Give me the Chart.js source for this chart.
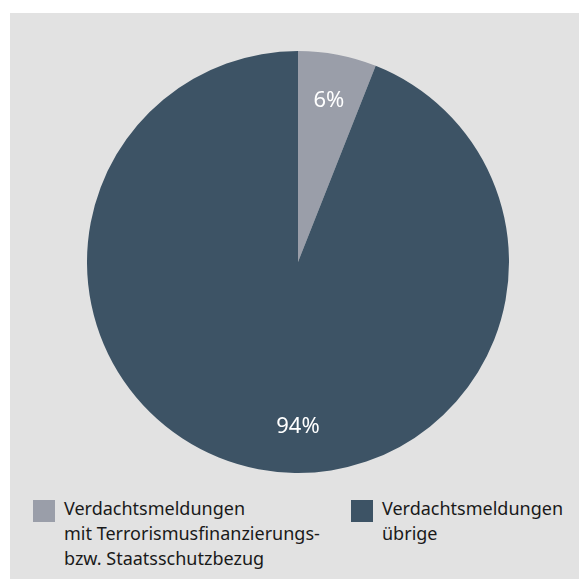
<!DOCTYPE html>
<html>
<head>
<meta charset="utf-8">
<script src="https://cdn.jsdelivr.net/npm/chart.js@4"></script>
<style>
  html, body { margin: 0; padding: 0; background: #fff; }
  body { width: 579px; height: 579px; position: relative; overflow: hidden; font-family: "Noto Sans", sans-serif; }
  #panel { position: absolute; left: 10px; top: 13px; right: 0; bottom: 0; background: #e2e2e2; }
  #wrap { position: absolute; left: 87px; top: 51px; width: 422px; height: 422px; }
  .leg { position: absolute; top: 496px; font-size: 18px; line-height: 25px; color: #1a1a1a; }
  .leg .box { position: absolute; left: -31px; top: 4px; width: 22px; height: 22px; }
</style>
</head>
<body>
<div id="panel"></div>
<div id="wrap"><canvas id="pie"></canvas></div>
<div id="legend"></div>
<script>
// Daten
var labels = [
    ["Verdachtsmeldungen", "mit Terrorismusfinanzierungs-", "bzw. Staatsschutzbezug"],
    ["Verdachtsmeldungen", "übrige"]
];
var valores = [6, 94];
var colores = ["#9a9ea9", "#3d5365"];

// Prozentwerte in die Segmente schreiben
// (große Segmente bekommen ihr Label senkrecht unter der Mitte)
var etiquetas = {
    id: 'etiquetas',
    afterDatasetsDraw: function (chart) {
        var ctx = chart.ctx;
        var meta = chart.getDatasetMeta(0);
        ctx.save();
        ctx.fillStyle = "#ffffff";
        ctx.font = '22px "Noto Sans"';
        ctx.textAlign = "center";
        ctx.textBaseline = "middle";
        meta.data.forEach(function (arc, i) {
            var mid = (arc.startAngle + arc.endAngle) / 2;
            if (arc.endAngle - arc.startAngle > Math.PI) mid = Math.PI / 2;
            var r = arc.outerRadius * 0.78;
            ctx.fillText(valores[i] + "%", arc.x + Math.cos(mid) * r, arc.y + Math.sin(mid) * r);
        });
        ctx.restore();
    }
};

function graphicPie(id, labels, data, colores) {
    var ctx = document.getElementById(id).getContext("2d");
    return new Chart(ctx, {
        type: 'pie',
        data: {
            labels: labels.map(function (l) { return l.join(" "); }),
            datasets: [{
                data: data,
                backgroundColor: colores,
                borderWidth: 0
            }]
        },
        options: {
            responsive: true,
            maintainAspectRatio: false,
            animation: false,
            layout: { padding: 0 },
            plugins: { legend: { display: false }, tooltip: { enabled: false } }
        },
        plugins: [etiquetas]
    });
}

graphicPie("pie", labels, valores, colores);

// Legende
var posX = [64, 382];
var leg = document.getElementById("legend");
labels.forEach(function (l, i) {
    var d = document.createElement("div");
    d.className = "leg";
    d.style.left = posX[i] + "px";
    d.innerHTML = '<span class="box" style="background:' + colores[i] + '"></span>' + l.join("<br>");
    leg.appendChild(d);
});
</script>
</body>
</html>
